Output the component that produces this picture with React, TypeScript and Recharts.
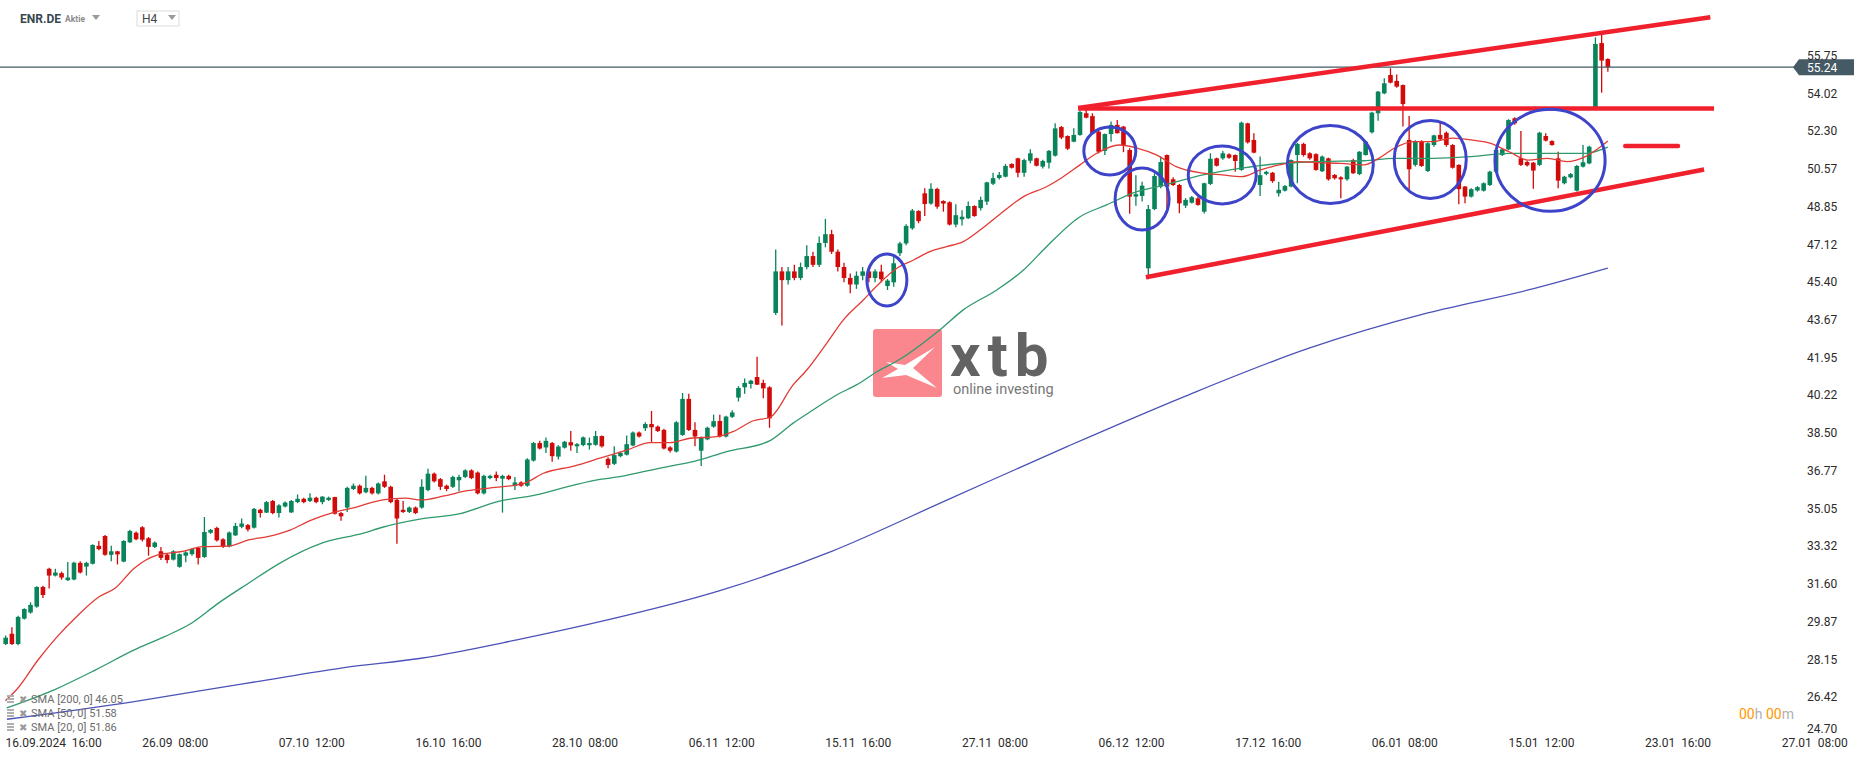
import React from "react";
import {
  ComposedChart, Bar, Line, XAxis, YAxis, ReferenceLine, ReferenceDot,
} from "recharts";

// 4h candles, open / high / low / close
const candles: [number, number, number, number][] = [
  [28.86, 29.25, 28.82, 29.15], [29.33, 29.63, 28.82, 28.86], [28.86, 30.15, 28.8, 30.1], [30.02, 30.5, 29.98, 30.46],
  [30.3, 30.77, 30.25, 30.65], [30.57, 31.5, 30.52, 31.47], [31.47, 31.52, 30.96, 31.1], [32.3, 32.35, 31.4, 31.99],
  [31.99, 32.3, 31.95, 32.13], [32.1, 32.17, 31.8, 31.9], [31.78, 32.61, 31.74, 31.9], [31.81, 32.62, 31.78, 32.58],
  [32.57, 32.65, 32.08, 32.13], [32.4, 32.62, 31.99, 32.57], [32.53, 33.42, 32.5, 33.39], [33.35, 33.57, 33.15, 33.2],
  [33.8, 33.85, 32.9, 32.94], [32.94, 33.35, 32.64, 33.1], [33.1, 33.12, 32.5, 32.96], [32.63, 33.6, 32.6, 33.57],
  [33.51, 34.08, 33.48, 34.03], [33.95, 34.0, 33.6, 33.65], [34.2, 34.25, 33.55, 33.63], [33.7, 33.75, 32.9, 33.3],
  [33.3, 33.55, 33.25, 33.5], [33.1, 33.3, 32.7, 32.8], [32.95, 33.0, 32.55, 32.7], [32.72, 33.15, 32.68, 33.1],
  [32.39, 33.0, 32.35, 32.97], [32.9, 33.1, 32.6, 33.05], [32.97, 33.25, 32.9, 33.2], [33.25, 33.3, 32.5, 32.8],
  [32.84, 34.67, 32.8, 33.98], [33.95, 34.12, 33.9, 34.08], [34.17, 34.22, 33.55, 33.6], [33.65, 33.7, 33.25, 33.3],
  [33.32, 34.0, 33.28, 33.96], [33.83, 34.4, 33.8, 34.26], [34.22, 34.6, 34.15, 34.37], [34.3, 34.35, 34.0, 34.1],
  [34.18, 35.08, 34.14, 35.04], [35.0, 35.05, 34.65, 34.85], [34.87, 35.4, 34.85, 35.35], [35.4, 35.45, 34.8, 34.85],
  [34.85, 35.25, 34.65, 35.2], [35.15, 35.38, 35.1, 35.33], [34.88, 35.45, 34.85, 35.4], [35.35, 35.7, 35.3, 35.5],
  [35.5, 35.55, 35.3, 35.35], [35.4, 35.75, 35.35, 35.55], [35.55, 35.6, 35.3, 35.35], [35.35, 35.62, 35.25, 35.6],
  [35.45, 35.6, 35.4, 35.55], [35.58, 35.6, 34.78, 34.82], [34.85, 34.9, 34.5, 34.7], [35.1, 36.05, 34.9, 36.0],
  [35.95, 36.2, 35.9, 36.1], [36.1, 36.15, 35.7, 35.75], [35.8, 36.55, 35.75, 36.0], [36.0, 36.05, 35.7, 35.75],
  [35.75, 36.25, 35.7, 36.2], [36.3, 36.6, 36.0, 36.05], [36.05, 36.1, 35.3, 35.35], [35.45, 35.5, 33.45, 34.6],
  [35.0, 35.4, 34.85, 34.9], [34.9, 35.15, 34.85, 35.1], [35.1, 35.15, 34.8, 34.85], [35.1, 36.4, 35.05, 36.05],
  [35.9, 36.87, 35.85, 36.65], [36.65, 36.7, 36.25, 36.3], [36.4, 36.45, 35.9, 36.05], [36.1, 36.15, 35.85, 35.95],
  [36.05, 36.55, 36.0, 36.5], [36.35, 36.6, 35.85, 36.5], [36.5, 36.85, 36.45, 36.8], [36.8, 36.85, 36.4, 36.45],
  [36.7, 36.75, 35.7, 35.75], [35.75, 36.6, 35.7, 36.55], [36.45, 36.6, 36.4, 36.55], [36.6, 36.75, 36.3, 36.45],
  [36.42, 36.6, 34.87, 36.55], [36.55, 36.6, 36.35, 36.4], [36.1, 36.5, 35.9, 36.25], [36.25, 36.3, 36.05, 36.1],
  [36.1, 37.35, 36.05, 37.3], [37.25, 38.1, 37.2, 38.05], [38.05, 38.15, 37.75, 37.8], [37.85, 38.3, 37.6, 38.15],
  [38.05, 38.1, 37.2, 37.45], [37.43, 37.95, 37.3, 37.89], [37.84, 38.15, 37.8, 38.11], [38.09, 38.6, 37.7, 37.94],
  [37.9, 38.05, 37.6, 38.0], [37.96, 38.35, 37.9, 38.31], [37.95, 38.3, 37.75, 38.05], [37.97, 38.6, 37.93, 38.37],
  [38.37, 38.4, 37.85, 37.9], [37.33, 37.4, 36.9, 37.05], [37.1, 37.9, 37.05, 37.5], [37.45, 37.65, 37.4, 37.6],
  [37.52, 38.4, 37.48, 38.0], [37.94, 38.58, 37.9, 38.53], [38.53, 38.58, 38.3, 38.35], [38.73, 39.0, 38.6, 38.92],
  [38.92, 39.52, 38.1, 38.77], [38.8, 38.85, 38.55, 38.6], [38.65, 38.7, 37.75, 37.8], [37.85, 37.9, 37.62, 37.7],
  [37.66, 39.05, 37.62, 39.0], [38.42, 40.34, 38.38, 40.07], [40.07, 40.3, 38.6, 38.65], [38.65, 39.0, 37.9, 38.35],
  [37.7, 38.35, 37.0, 38.3], [38.22, 38.8, 38.18, 38.75], [38.8, 39.35, 38.75, 39.05], [39.06, 39.35, 38.3, 38.35],
  [38.35, 39.3, 38.3, 39.26], [39.25, 39.55, 39.2, 39.45], [40.13, 40.65, 39.95, 40.57], [40.6, 41.0, 40.3, 40.8],
  [40.75, 40.95, 40.55, 40.9], [41.07, 42.0, 40.7, 40.72], [40.8, 40.95, 40.1, 40.55], [40.6, 40.65, 38.75, 39.18],
  [44.0, 46.9, 43.9, 45.9], [45.9, 46.1, 43.42, 45.5], [45.5, 46.1, 45.3, 45.9], [45.9, 46.2, 45.5, 45.6],
  [45.6, 46.3, 45.5, 46.1], [46.1, 47.1, 46.0, 46.6], [46.6, 46.8, 46.1, 46.2], [46.2, 47.5, 46.1, 47.2],
  [47.2, 48.3, 47.0, 47.6], [47.6, 47.8, 46.7, 46.8], [46.8, 46.9, 45.9, 46.1], [46.1, 46.3, 45.4, 45.6],
  [45.6, 45.8, 44.9, 45.3], [45.3, 45.9, 45.1, 45.7], [45.7, 46.1, 45.5, 45.9], [45.9, 46.0, 45.4, 45.6],
  [45.6, 46.0, 45.4, 45.9], [45.89, 46.2, 45.4, 45.54], [45.23, 45.55, 45.05, 45.48], [45.4, 46.57, 45.2, 46.27],
  [46.73, 47.25, 46.6, 47.18], [47.18, 48.05, 47.1, 47.98], [47.87, 48.75, 47.8, 48.68], [48.66, 48.7, 48.1, 48.2],
  [49.47, 49.7, 48.43, 48.98], [49.0, 49.93, 48.95, 49.68], [49.67, 49.72, 48.77, 48.86], [49.12, 49.15, 48.63, 49.0],
  [49.06, 49.1, 48.0, 48.04], [48.04, 48.97, 47.92, 48.47], [48.28, 48.7, 48.0, 48.4], [48.33, 49.1, 48.3, 48.89],
  [48.89, 48.92, 48.4, 48.43], [48.79, 49.32, 48.68, 49.17], [49.09, 50.0, 48.94, 49.97], [49.91, 50.41, 49.85, 50.16],
  [50.17, 50.45, 50.1, 50.31], [50.23, 50.81, 50.2, 50.72], [50.81, 50.85, 50.6, 50.64], [51.07, 51.1, 50.2, 50.41],
  [50.41, 51.05, 50.23, 50.99], [50.96, 51.48, 50.84, 51.3], [51.07, 51.1, 50.7, 50.73], [50.69, 51.0, 50.6, 50.95],
  [50.87, 51.45, 50.6, 51.41], [51.19, 52.67, 51.15, 52.44], [52.5, 52.55, 51.95, 52.02], [52.09, 52.12, 51.45, 51.51],
  [51.83, 52.44, 51.8, 52.14], [52.14, 53.25, 52.1, 53.19], [53.13, 53.28, 52.9, 52.93], [53.0, 53.13, 52.2, 52.22],
  [52.29, 52.32, 51.3, 51.37], [51.41, 52.2, 51.22, 52.18], [52.18, 52.75, 51.83, 52.6], [52.6, 52.82, 52.2, 52.22],
  [52.52, 52.55, 51.35, 51.68], [51.45, 51.53, 48.53, 49.32], [49.32, 50.3, 48.9, 49.43], [49.35, 50.0, 49.1, 49.82],
  [46.04, 48.94, 45.54, 48.75], [48.75, 50.39, 48.7, 50.26], [49.78, 51.15, 49.7, 50.9], [51.22, 51.25, 48.56, 49.78],
  [50.11, 50.2, 49.8, 49.85], [49.85, 49.9, 48.56, 49.01], [48.91, 49.25, 48.8, 49.17], [49.04, 49.35, 49.0, 49.29],
  [49.24, 49.3, 48.9, 48.94], [48.63, 49.95, 48.55, 49.93], [49.9, 51.3, 49.85, 51.05], [51.07, 51.1, 50.7, 50.73],
  [51.07, 51.4, 51.0, 51.3], [51.25, 51.3, 51.05, 51.1], [51.22, 51.25, 50.46, 50.95], [50.54, 52.75, 50.5, 52.7],
  [52.67, 52.7, 51.75, 51.8], [51.91, 52.22, 51.3, 51.33], [49.85, 51.15, 49.35, 50.3], [50.36, 50.5, 50.3, 50.45],
  [50.41, 50.45, 49.95, 50.03], [49.47, 50.0, 49.32, 49.63], [49.59, 49.85, 49.55, 49.8], [49.78, 51.02, 49.75, 50.99],
  [51.22, 51.78, 49.93, 51.73], [51.73, 51.78, 51.15, 51.22], [51.3, 51.35, 51.0, 51.07], [51.26, 51.3, 50.5, 50.54],
  [50.48, 51.2, 50.45, 51.15], [51.07, 51.1, 50.05, 50.11], [50.31, 50.35, 50.1, 50.16], [50.2, 50.25, 49.24, 50.11],
  [50.11, 50.72, 50.05, 50.69], [50.99, 51.05, 50.35, 50.39], [50.35, 51.4, 50.3, 51.37], [51.22, 51.86, 51.2, 51.83],
  [52.26, 53.2, 52.2, 53.16], [53.13, 54.15, 52.79, 54.12], [54.04, 54.73, 54.0, 54.5], [54.88, 55.19, 54.5, 54.53],
  [54.61, 54.9, 54.3, 54.35], [54.42, 54.45, 52.52, 53.55], [51.91, 53.0, 49.55, 50.57], [50.77, 51.9, 50.7, 51.86],
  [51.86, 51.9, 50.68, 50.72], [50.49, 51.8, 50.45, 51.76], [51.68, 52.15, 51.6, 52.12], [52.14, 52.75, 51.9, 51.94],
  [52.24, 52.3, 51.6, 51.68], [51.68, 51.72, 50.6, 50.64], [50.77, 50.8, 48.97, 49.66], [49.78, 49.8, 49.02, 49.32],
  [49.32, 49.7, 49.28, 49.66], [49.6, 49.8, 49.55, 49.75], [49.59, 49.97, 49.55, 49.93], [49.85, 50.5, 49.8, 50.46],
  [50.46, 51.5, 50.4, 51.45], [51.22, 51.52, 51.18, 51.48], [51.48, 52.86, 51.44, 52.82], [52.9, 52.95, 52.6, 52.67],
  [51.07, 52.32, 50.72, 50.77], [50.9, 50.95, 50.7, 50.75], [50.87, 50.9, 49.68, 50.51], [50.77, 52.28, 50.72, 52.24],
  [52.09, 52.22, 51.84, 51.88], [51.86, 51.9, 51.64, 51.68], [51.07, 51.37, 49.7, 50.05], [49.93, 50.27, 49.88, 50.23],
  [50.2, 50.4, 50.15, 50.35], [49.59, 50.76, 49.55, 50.72], [50.69, 51.68, 50.65, 50.89], [50.84, 51.65, 50.8, 51.6],
  [53.39, 56.6, 53.3, 56.3], [56.34, 56.86, 54.07, 55.54], [55.61, 55.65, 55.03, 55.24],
];

// moving averages: [candle index, value]
const sma20: [number, number][] = [
  [-0.05, 26.27], [1.8, 26.79], [5.2, 28.13], [8.3, 29.2], [11.4, 30.11], [15.1, 31.03], [17.6, 31.41], [20.7, 32.33],
  [24.4, 32.93], [28.1, 33.08], [31.8, 33.31], [36.1, 33.35], [39.1, 33.62], [42.2, 33.77], [45.9, 34.08],
  [49.0, 34.5], [52.7, 34.87], [55.8, 35.07], [60.7, 35.45], [64.4, 35.53], [66.9, 35.45], [70.6, 35.63],
  [74.3, 35.87], [79.2, 36.03], [83.5, 36.21], [86.6, 36.67], [91.5, 37.0], [95.7, 37.36], [100, 37.73],
  [103.8, 38.07], [107, 38.07], [110.2, 38.27], [114.5, 38.34], [117.1, 38.57], [120.4, 39.07], [123.1, 39.23],
  [126.8, 40.71], [129, 41.39], [132.2, 42.61], [134.9, 43.68], [138.1, 44.59], [140.8, 45.38], [143.5, 46.04],
  [146.2, 46.42], [148.8, 46.8], [151.5, 47.03], [154.2, 47.26], [156.9, 47.79], [160.6, 48.63], [163.9, 49.32],
  [167.6, 49.77], [170.3, 50.23], [173, 50.77], [175.7, 51.3], [179.3, 51.68], [182.3, 51.53], [185.4, 51.22],
  [188.5, 50.69], [192.8, 50.39], [195.9, 50.31], [199, 50.23], [202.1, 50.54], [205.1, 50.77], [208.2, 50.92],
  [211.3, 50.87], [215, 50.84], [218.7, 50.77], [221.1, 51.07], [223.6, 51.53], [226.7, 51.83], [229.8, 51.83],
  [232.9, 51.99], [236, 51.91], [239, 51.76], [242.1, 51.37], [245.2, 50.99], [248.3, 51.07], [251.4, 50.92],
  [254.4, 51.15], [258, 51.86],
];
const sma50: [number, number][] = [
  [0.16, 25.94], [8.0, 26.79], [14.5, 27.68], [20.7, 28.59], [25.6, 29.2], [29.9, 29.81], [34.2, 30.72], [39.1, 31.64],
  [44.1, 32.55], [50.9, 33.47], [57.6, 33.93], [60.7, 34.2], [66.9, 34.58], [73, 34.81], [79.2, 35.37],
  [85.4, 35.68], [91.5, 36.13], [95.7, 36.39], [98.9, 36.51], [102.7, 36.74], [107, 37.0], [110.7, 37.2],
  [116.1, 37.66], [123.1, 38.16], [126.8, 38.96], [130, 39.56], [133.8, 40.25], [137, 40.71], [140.3, 41.31],
  [144, 41.88], [150.4, 43.22], [154.2, 44.14], [159.6, 45.05], [163.9, 45.96], [167.6, 47.03], [173, 48.4],
  [177.3, 48.94], [181.7, 49.5], [186.6, 49.85], [192.8, 50.31], [199, 50.62], [203.9, 50.8], [211.3, 50.92],
  [218.7, 50.96], [223.6, 51.07], [229.8, 51.07], [236, 51.15], [242.1, 51.3], [248.3, 51.3], [254.4, 51.3],
  [258, 51.58],
];
const sma200: [number, number][] = [
  [0.2, 25.42], [20.7, 26.23], [32.7, 26.79], [42.2, 27.22], [54.5, 27.78], [66.9, 28.21], [82.3, 29.05],
  [95.7, 29.88], [115, 31.3], [133, 33.1], [152, 35.5], [171, 37.9], [190, 40.2], [210, 42.4], [229, 44.0],
  [245.2, 45.05], [258, 46.05],
];

const yTicks = [55.75, 54.025, 52.3, 50.575, 48.85, 47.125, 45.4, 43.675, 41.95, 40.225, 38.5, 36.775, 35.05, 33.325, 31.6, 29.875, 28.15, 26.425, 24.7];
const yLabels = ["55.75", "54.02", "52.30", "50.57", "48.85", "47.12", "45.40", "43.67", "41.95", "40.22", "38.50", "36.77", "35.05", "33.32", "31.60", "29.87", "28.15", "26.42", "24.70"];
const xTicks = [5.3, 27.3, 49.3, 71.3, 93.3, 115.3, 137.3, 159.3, 181.3, 203.3, 225.3, 247.3, 269.3, 291.3];
const xLabels = ["16.09.2024  16:00", "26.09  08:00", "07.10  12:00", "16.10  16:00", "28.10  08:00", "06.11  12:00", "15.11  16:00", "27.11  08:00", "06.12  12:00", "17.12  16:00", "06.01  08:00", "15.01  12:00", "23.01  16:00", "27.01  08:00"];

const lastPrice = 55.24;

// drawn annotations, in (candle index, price)
const channelUpper = [{ x: 172.7, y: 53.37 }, { x: 274.5, y: 57.52 }];
const channelTop = [{ x: 172.7, y: 53.35 }, { x: 275.1, y: 53.35 }];
const channelLower = [{ x: 183.6, y: 45.63 }, { x: 273.5, y: 50.56 }];
const targetMark = [{ x: 260.8, y: 51.63 }, { x: 269.3, y: 51.63 }];
const circles = [
  { i: 141.9, p: 45.51, rx: 20, ry: 26 },
  { i: 177.8, p: 51.41, rx: 26, ry: 24 },
  { i: 183.0, p: 49.21, rx: 27, ry: 31 },
  { i: 195.9, p: 50.31, rx: 34, ry: 29 },
  { i: 213.3, p: 50.79, rx: 43, ry: 39 },
  { i: 229.4, p: 51.02, rx: 36, ry: 39 },
  { i: 248.7, p: 50.98, rx: 55, ry: 51 },
];

const GREEN = "#08835a";
const RED = "#d10a0a";
const FONT = "Roboto, 'Noto Sans', sans-serif";

const candleData = candles.map(([o, h, l, c], i) => ({ i, o, h, l, c, range: [l, h] }));
const toLine = (pts: [number, number][]) => pts.map(([i, v]) => ({ i, v }));

function Candle(props: any) {
  const { x, y, width, height, payload } = props;
  if (payload == null || height == null) return null;
  const { o, h, l, c } = payload;
  const color = c >= o ? GREEN : RED;
  const full = Math.abs(height);
  const top = Math.min(y, y + height);
  const k = full / Math.max(h - l, 0.0001);
  const bodyTop = top + (h - Math.max(o, c)) * k;
  const bodyH = Math.max(1.2, Math.abs(o - c) * k);
  const cx = x + width / 2;
  return (
    <g>
      <line x1={cx} x2={cx} y1={top} y2={top + full} stroke={color} strokeWidth={1.3} />
      <rect x={cx - 2.3} y={bodyTop} width={4.6} height={bodyH} fill={color} />
    </g>
  );
}

function XTick(props: any) {
  const { x, y, payload, index } = props;
  const n = xTicks.indexOf(payload.value);
  const label = xLabels[n >= 0 ? n : index] ?? "";
  const first = n === 0;
  return (
    <text x={first ? x - 33 : x} y={y} dy={4} textAnchor={first ? "start" : "middle"}
      fontSize={12} fill="#2b2b2b" fontFamily={FONT} style={{ whiteSpace: "pre" }}>
      {label}
    </text>
  );
}

function YTick(props: any) {
  const { x, y, payload } = props;
  const n = yTicks.indexOf(payload.value);
  const last = n === yTicks.length - 1;
  return (
    <text x={x} y={y} dy={last ? -2 : 4} textAnchor="start" fontSize={12} fill="#2b2b2b" fontFamily={FONT}>
      {yLabels[n]}
    </text>
  );
}

function PriceTag(props: any) {
  const { viewBox } = props;
  if (!viewBox) return null;
  const right = viewBox.x + viewBox.width;
  const y = viewBox.y;
  return (
    <g>
      <polygon points={`${right - 6},${y} ${right},${y - 8} ${right + 55},${y - 8} ${right + 55},${y + 8} ${right},${y + 8}`} fill="#455a64" />
      <text x={right + 8} y={y + 4.5} fontSize={12} fill="#fff" fontFamily={FONT}>{lastPrice.toFixed(2)}</text>
    </g>
  );
}

function Ellipse(rx: number, ry: number) {
  return (props: any) => (
    <ellipse cx={props.cx} cy={props.cy} rx={rx} ry={ry} fill="none" stroke="#3d44c9" strokeWidth={3} />
  );
}

function Watermark() {
  return (
    <svg width={1866} height={759} style={{ position: "absolute", left: 0, top: 0 }}>
      <rect x={873} y={329} width={69} height={68} rx={3} fill="#f9878d" />
      <path d="M886,362 L905,365 L935,347 L913,368 L937,388 L906,375 L882,378 L898,369 Z" fill="#fff" />
      <text x={950} y={376} fontSize={60} fontWeight={700} fill="#636363" fontFamily={FONT} letterSpacing={7}>xtb</text>
      <text x={953} y={394} fontSize={14.5} fill="#777" fontFamily={FONT}>online investing</text>
    </svg>
  );
}

function Overlay() {
  const rows = [
    { name: "SMA [200, 0] 46.05", y: 703 },
    { name: "SMA [50, 0] 51.58", y: 717 },
    { name: "SMA [20, 0] 51.86", y: 731 },
  ];
  return (
    <svg width={1866} height={759} style={{ position: "absolute", left: 0, top: 0, pointerEvents: "none" }}>
      <text x={20} y={23} fontSize={13} fontWeight={700} fill="#37474f" fontFamily={FONT}
        textLength={41} lengthAdjust="spacingAndGlyphs">ENR.DE</text>
      <text x={65} y={22} fontSize={8.5} fontWeight={700} fill="#8a8a8a" fontFamily={FONT}>Aktie</text>
      <polygon points="92,15 100,15 96,20" fill="#9a9a9a" />
      <rect x={137} y={11} width={42} height={15} fill="#fff" stroke="#dcdcdc" />
      <text x={142} y={23} fontSize={12} fill="#444" fontFamily={FONT}>H4</text>
      <polygon points="168,15 176,15 172,20" fill="#9a9a9a" />
      {rows.map((r) => (
        <g key={r.name}>
          <rect x={7} y={r.y - 8} width={7} height={2} fill="#b0b0b0" />
          <rect x={7} y={r.y - 5} width={7} height={2} fill="#b0b0b0" />
          <rect x={7} y={r.y - 2} width={7} height={2} fill="#b0b0b0" />
          <text x={19} y={r.y} fontSize={10} fill="#9a9a9a" fontFamily={FONT}>✖</text>
          <text x={31} y={r.y} fontSize={11} fill="#6b6b6b" fontFamily={FONT}>{r.name}</text>
        </g>
      ))}
      <text x={1739} y={719} fontSize={14} fontFamily={FONT}>
        <tspan fill="#ff9800">00</tspan><tspan fill="#b0b0b0">h </tspan>
        <tspan fill="#ff9800">00</tspan><tspan fill="#b0b0b0">m</tspan>
      </text>
    </svg>
  );
}

export default function App() {
  return (
    <div style={{ position: "absolute", left: 0, top: 0, width: 1866, height: 759, background: "#fff", fontFamily: FONT }}>
      <Watermark />
      <div style={{ position: "absolute", left: 0, top: 0 }}>
        <ComposedChart width={1866} height={759} data={candleData} margin={{ top: 0, right: 0, bottom: 0, left: 0 }}>
          <XAxis dataKey="i" type="number" domain={[-0.918, 288.78]} ticks={xTicks} tick={<XTick />}
            axisLine={false} tickLine={false} height={24} interval={0} allowDataOverflow />
          <YAxis orientation="right" type="number" domain={[24.7, 58.31]} ticks={yTicks} tick={<YTick />}
            axisLine={false} tickLine={false} width={67} interval={0} allowDataOverflow />
          <Line data={toLine(sma200)} dataKey="v" type="monotone" stroke="#4c52b8" strokeWidth={1.3}
            dot={false} activeDot={false} isAnimationActive={false} />
          <Line data={toLine(sma50)} dataKey="v" type="monotone" stroke="#2f9a6c" strokeWidth={1.3}
            dot={false} activeDot={false} isAnimationActive={false} />
          <Line data={toLine(sma20)} dataKey="v" type="monotone" stroke="#e23b35" strokeWidth={1.3}
            dot={false} activeDot={false} isAnimationActive={false} />
          <Bar dataKey="range" barSize={5} shape={<Candle />} activeBar={false} isAnimationActive={false} />
          <ReferenceLine y={lastPrice} stroke="#455a64" strokeWidth={1.3} label={<PriceTag />} />
          <ReferenceLine segment={channelUpper} stroke="#f0202d" strokeWidth={4.5} ifOverflow="visible" />
          <ReferenceLine segment={channelTop} stroke="#f0202d" strokeWidth={4.5} ifOverflow="visible" />
          <ReferenceLine segment={channelLower} stroke="#f0202d" strokeWidth={4.5} ifOverflow="visible" />
          <ReferenceLine segment={targetMark} stroke="#f0202d" strokeWidth={4.5} ifOverflow="visible" strokeLinecap="round" />
          {circles.map((c, n) => (
            <ReferenceDot key={n} x={c.i} y={c.p} r={c.rx} shape={Ellipse(c.rx, c.ry)} ifOverflow="visible" />
          ))}
        </ComposedChart>
      </div>
      <Overlay />
    </div>
  );
}
